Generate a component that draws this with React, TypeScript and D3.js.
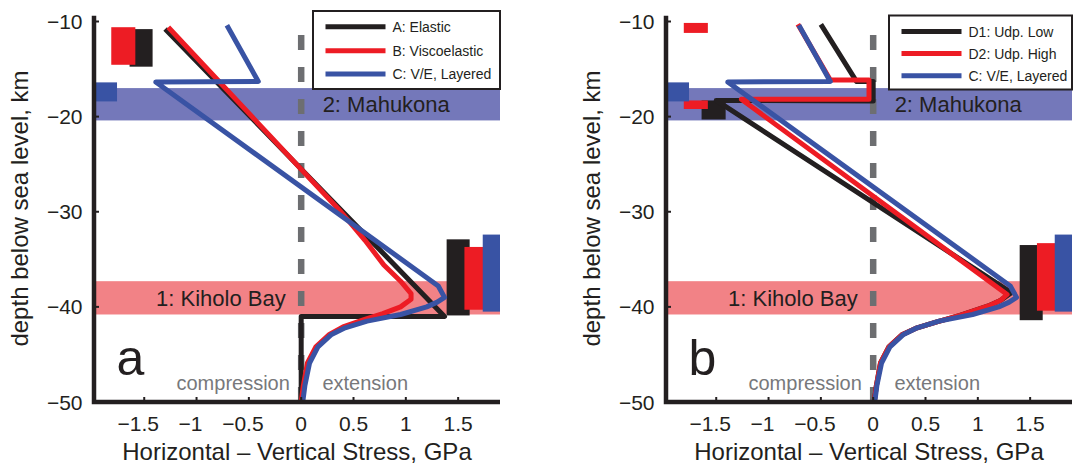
import * as d3 from 'd3';

// [stress (GPa), depth (km)]
type Pt = [number, number];

const X_TICKS = [-1.5, -1, -0.5, 0, 0.5, 1, 1.5];
const Y_TICKS = [-10, -20, -30, -40, -50];
const X_DOMAIN = [-1.98, 1.9];

// Panel a
const ELASTIC_A: Pt[] = [[-1.3, -10.8], [1.37, -41.0], [0, -41.0], [0, -50]];
const VISCO_B: Pt[] = [
  [-1.27, -10.6], [0.38, -30.0], [0.61, -33.0], [0.79, -35.6], [0.95, -37.3],
  [1.05, -38.6], [1.05, -39.2], [0.95, -40.0], [0.78, -40.7], [0.6, -41.35],
  [0.4, -42.1], [0.27, -42.9], [0.14, -44.2], [0.06, -45.9], [0.02, -48.3], [0.0, -50],
];
const LAYERED_C: Pt[] = [
  [-0.71, -10.4], [-0.41, -16.3], [-1.39, -16.35], [1.31, -37.8], [1.37, -39.0],
  [1.3, -39.5], [1.2, -40.0], [0.95, -40.8], [0.63, -41.5], [0.42, -42.2],
  [0.29, -42.9], [0.16, -44.2], [0.08, -45.9], [0.035, -48.3], [0.015, -50],
];

// Panel b
const UDP_LOW_D1: Pt[] = [
  [-0.5, -10.3], [-0.16, -16.3], [0, -16.3], [0, -18.35], [-1.5, -18.3],
  [1.32, -38.5], [1.22, -39.3], [1.1, -39.9], [0.83, -40.9], [0.6, -41.6],
  [0.42, -42.2], [0.28, -42.9], [0.15, -44.2], [0.07, -45.9], [0.03, -48.3], [0.01, -50],
];
const UDP_HIGH_D2: Pt[] = [
  [-0.72, -10.3], [-0.41, -16.15], [-0.04, -16.15], [-0.04, -18.18], [-1.26, -18.18],
  [1.28, -38.7], [1.22, -39.3], [1.1, -39.9], [0.83, -40.9], [0.6, -41.6],
  [0.42, -42.2], [0.28, -42.9], [0.15, -44.2], [0.07, -45.9], [0.03, -48.3], [0.01, -50],
];

// depth-range markers: [x0, x1, top, bottom]
const MARKERS_A_ELASTIC = [[-1.64, -1.42, -10.8, -14.75], [1.39, 1.61, -32.9, -40.9]];
const MARKERS_B_VISCO = [[-1.815, -1.585, -10.6, -14.55], [1.56, 1.78, -33.7, -40.3]];
const MARKERS_C_LAYERED = [[-1.98, -1.76, -16.4, -18.4], [1.735, 1.9, -32.4, -40.5]];
const MARKERS_D1 = [[-1.64, -1.41, -18.3, -20.3], [1.4, 1.62, -33.5, -41.4]];
const MARKERS_D2 = [[-1.81, -1.58, -10.15, -11.2], [-1.81, -1.58, -18.3, -19.2], [1.565, 1.78, -33.3, -40.4]];

// fault zones: [label, top, bottom]
const BAND_MAHUKONA: [string, number, number] = ['2: Mahukona', -17.0, -20.4];
const BAND_KIHOLO: [string, number, number] = ['1: Kiholo Bay', -37.3, -40.8];

const LEGEND_A = ['A: Elastic', 'B: Viscoelastic', 'C: V/E, Layered'];
const LEGEND_B = ['D1: Udp. Low', 'D2: Udp. High', 'C: V/E, Layered'];

const BLACK = '#231f20';
const RED = '#ed1c24';
const BLUE = '#3953a4';
const GRAY = '#6d6e71';
const FONT = "'Liberation Sans', Arial, Helvetica, sans-serif";

const y = d3.scaleLinear().domain([-50, -10]).range([402, 21.5]);

const fmt = (v: number) => (v < 0 ? '\u2212' : '') + Math.abs(v);

function Panel({ left, right, series, markers, legend, legendBox, letter, yLabelX }: any) {
  const x = d3.scaleLinear().domain(X_DOMAIN).range([left, right]);
  const line = d3.line<Pt>().x((d) => x(d[0])).y((d) => y(d[1]));
  const colors = [BLACK, RED, BLUE];

  return (
    <g>
      {/* bands */}
      {[BAND_MAHUKONA, BAND_KIHOLO].map(([label, top, bottom], i) => (
        <rect key={label} x={left} width={right - left} y={y(top)} height={y(bottom) - y(top)}
          fill={i === 0 ? '#7478ba' : '#f28286'} />
      ))}
      <text x={x(0.205)} y={112.4} fontSize={22} fill={BLACK} fontFamily={FONT}>{BAND_MAHUKONA[0]}</text>
      <text x={x(-0.148)} y={305.5} fontSize={22} fill={BLACK} fontFamily={FONT} textAnchor="end">{BAND_KIHOLO[0]}</text>

      {/* zero line */}
      <path d={`M${x(0)},${y(-50)}V${y(-11.3)}`} stroke={GRAY} strokeWidth={6.5} strokeDasharray="15 17" fill="none" />

      {/* markers */}
      {markers.map((ms: number[][], i: number) => ms.map((m, j) => (
        <rect key={`${i}-${j}`} x={x(m[0])} width={x(m[1]) - x(m[0])} y={y(m[2])} height={y(m[3]) - y(m[2])}
          fill={colors[i]} />
      )))}

      {/* profiles */}
      {series.map((s: Pt[], i: number) => (
        <path key={i} d={line(s) || ''} fill="none" stroke={colors[i]} strokeWidth={5} strokeLinejoin="round" />
      ))}

      {/* axes */}
      <path d={`M${left},${y(-9.4)}V${y(-50)}H${right}`} fill="none" stroke={BLACK} strokeWidth={4.5} />
      {X_TICKS.map((t) => (
        <g key={t}>
          <line x1={x(t)} x2={x(t)} y1={y(-50)} y2={y(-50) - 5} stroke={BLACK} strokeWidth={2} />
          <text x={x(t)} dx={t < 0 ? -6 : 0} y={431} fontSize={21} textAnchor="middle" fill={BLACK} fontFamily={FONT}>{fmt(t)}</text>
        </g>
      ))}
      {Y_TICKS.map((t) => (
        <g key={t}>
          <line x1={left} x2={left + 5} y1={y(t)} y2={y(t)} stroke={BLACK} strokeWidth={2} />
          <text x={left - 11.5} y={y(t) + 7.5} fontSize={21} textAnchor="end" fill={BLACK} fontFamily={FONT}>{fmt(t)}</text>
        </g>
      ))}
      <text x={(left + right) / 2} y={460} fontSize={24} textAnchor="middle" fill={BLACK} fontFamily={FONT}>
        Horizontal – Vertical Stress, GPa
      </text>
      <text transform={`translate(${yLabelX},208.5) rotate(-90)`} fontSize={24} textAnchor="middle" fill={BLACK} fontFamily={FONT}>
        depth below sea level, km
      </text>

      {/* annotations */}
      <text x={x(-0.108)} y={390} fontSize={20} textAnchor="end" fill="#77787b" fontFamily={FONT}>compression</text>
      <text x={x(0.203)} y={390} fontSize={20} fill="#77787b" fontFamily={FONT}>extension</text>
      <text x={x(-1.764)} y={375} fontSize={50} fill={BLACK} fontFamily={FONT}>{letter}</text>

      {/* legend */}
      <rect x={legendBox.x} y={legendBox.top} width={right - legendBox.x} height={legendBox.bottom - legendBox.top}
        fill="#fff" stroke={BLACK} strokeWidth={2} />
      {legend.map((label: string, i: number) => (
        <g key={label}>
          <line x1={legendBox.x + 12.5} x2={legendBox.x + 72.5} y1={legendBox.rows[i]} y2={legendBox.rows[i]}
            stroke={colors[i]} strokeWidth={5} />
          <text x={legendBox.x + 79.5} y={legendBox.rows[i] + 5} fontSize={14} fill={BLACK} fontFamily={FONT}>{label}</text>
        </g>
      ))}
    </g>
  );
}

export default function App() {
  return (
    <div>
      <style>{'body{margin:0}'}</style>
      <svg width={1073} height={464} style={{ display: 'block', background: '#fff' }}>
        <Panel left={94} right={500} series={[ELASTIC_A, VISCO_B, LAYERED_C]}
          markers={[MARKERS_A_ELASTIC, MARKERS_B_VISCO, MARKERS_C_LAYERED]}
          legend={LEGEND_A} legendBox={{ x: 313, top: 11, bottom: 89, rows: [26.8, 50.8, 74] }}
          letter="a" yLabelX={27.5} />
        <Panel left={666} right={1072} series={[UDP_LOW_D1, UDP_HIGH_D2, LAYERED_C]}
          markers={[MARKERS_D1, MARKERS_D2, MARKERS_C_LAYERED]}
          legend={LEGEND_B} legendBox={{ x: 889, top: 15.5, bottom: 89.5, rows: [31.5, 53.5, 75.8] }}
          letter="b" yLabelX={599.5} />
      </svg>
    </div>
  );
}
